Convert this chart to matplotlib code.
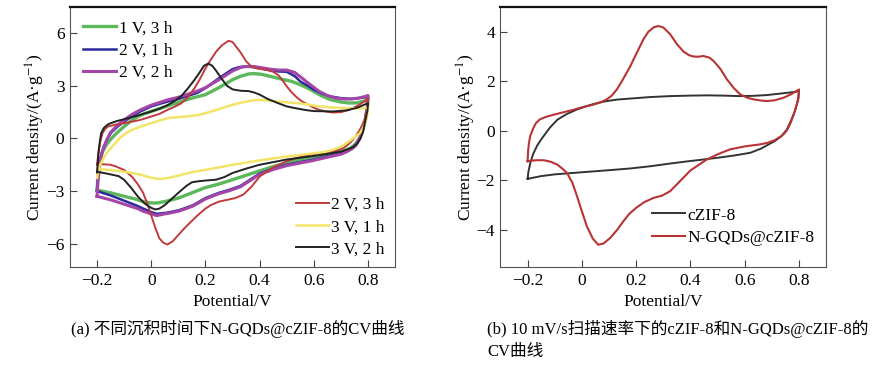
import numpy as np
import matplotlib
matplotlib.use("Agg")
import matplotlib.pyplot as plt

plt.rcParams['font.family'] = ['Liberation Serif', 'Noto Sans CJK SC']
plt.rcParams['mathtext.fontset'] = 'stix'

# ---- (a) CV curves at different deposition conditions: (V, j) pairs, anodic then cathodic ----
cv_1v3h = [(-0.2, -2.9), (-0.197, -2.2), (-0.19, -1.3), (-0.18, -0.75), (-0.165, -0.35), (-0.15, -0.05),
           (-0.125, 0.35), (-0.1, 0.68), (-0.075, 1.0), (-0.05, 1.25), (-0.025, 1.42), (0, 1.54), (0.05, 1.8),
           (0.1, 2.05), (0.15, 2.3), (0.2, 2.5), (0.25, 2.9), (0.3, 3.35), (0.33, 3.55), (0.36, 3.68), (0.38, 3.7),
           (0.41, 3.65), (0.45, 3.5), (0.49, 3.35), (0.52, 3.25), (0.55, 3.06), (0.58, 2.85), (0.6, 2.68),
           (0.63, 2.42), (0.66, 2.22), (0.7, 2.08), (0.73, 2.02), (0.76, 2.03), (0.79, 2.15), (0.8, 2.3),
           (0.798, 1.8), (0.79, 1.0), (0.78, 0.45), (0.77, 0.05), (0.755, -0.3), (0.74, -0.5), (0.72, -0.65),
           (0.7, -0.75), (0.65, -0.9), (0.6, -1.05), (0.55, -1.2), (0.5, -1.4), (0.45, -1.6), (0.4, -1.85),
           (0.33, -2.2), (0.25, -2.6), (0.2, -2.8), (0.15, -3.1), (0.1, -3.4), (0.05, -3.6), (0.02, -3.68),
           (0, -3.68), (-0.03, -3.6), (-0.06, -3.45), (-0.1, -3.3), (-0.15, -3.1), (-0.2, -2.95)]

cv_2v1h = [(-0.2, -3.0), (-0.197, -2.3), (-0.19, -1.4), (-0.183, -0.85), (-0.175, -0.45), (-0.163, -0.05),
           (-0.15, 0.3), (-0.125, 0.67), (-0.1, 0.97), (-0.07, 1.27), (-0.04, 1.54), (0, 1.83), (0.03, 1.97),
           (0.06, 2.1), (0.1, 2.25), (0.13, 2.4), (0.17, 2.6), (0.2, 2.87), (0.25, 3.44), (0.28, 3.75),
           (0.3, 3.95), (0.32, 4.05), (0.34, 4.1), (0.37, 4.08), (0.4, 4.0), (0.44, 3.88), (0.47, 3.82),
           (0.5, 3.8), (0.53, 3.55), (0.55, 3.25), (0.58, 2.98), (0.6, 2.78), (0.63, 2.55), (0.66, 2.4),
           (0.7, 2.3), (0.73, 2.26), (0.76, 2.28), (0.79, 2.35), (0.8, 2.4),
           (0.798, 1.9), (0.79, 1.1), (0.78, 0.5), (0.77, 0.05), (0.755, -0.35), (0.74, -0.55), (0.72, -0.72),
           (0.7, -0.85), (0.65, -1.02), (0.6, -1.2), (0.55, -1.35), (0.5, -1.5), (0.45, -1.72), (0.4, -2.0),
           (0.36, -2.4), (0.33, -2.7), (0.29, -2.92), (0.25, -3.1), (0.2, -3.4), (0.155, -3.8), (0.12, -4.0),
           (0.1, -4.1), (0.07, -4.2), (0.05, -4.25), (0.02, -4.3), (0, -4.2), (-0.03, -4.0), (-0.05, -3.85),
           (-0.1, -3.55), (-0.15, -3.25), (-0.2, -3.0)]

cv_2v2h = [(-0.2, -3.3), (-0.197, -2.5), (-0.19, -1.5), (-0.183, -0.9), (-0.175, -0.5), (-0.163, -0.05),
           (-0.15, 0.35), (-0.125, 0.75), (-0.1, 1.05), (-0.07, 1.38), (-0.04, 1.63), (0, 1.9), (0.03, 2.05),
           (0.06, 2.2), (0.1, 2.35), (0.13, 2.5), (0.17, 2.7), (0.2, 2.9), (0.25, 3.35), (0.28, 3.65),
           (0.3, 3.85), (0.33, 4.05), (0.35, 4.1), (0.38, 4.1), (0.4, 4.05), (0.44, 3.95), (0.47, 3.9),
           (0.5, 3.9), (0.53, 3.76), (0.56, 3.4), (0.58, 3.15), (0.6, 2.92), (0.62, 2.68), (0.65, 2.45),
           (0.68, 2.3), (0.71, 2.25), (0.74, 2.25), (0.77, 2.32), (0.79, 2.4), (0.8, 2.45),
           (0.798, 1.9), (0.79, 1.1), (0.78, 0.45), (0.77, 0.0), (0.755, -0.4), (0.74, -0.6), (0.72, -0.77),
           (0.7, -0.9), (0.65, -1.07), (0.6, -1.25), (0.55, -1.4), (0.5, -1.55), (0.45, -1.77), (0.4, -2.05),
           (0.36, -2.45), (0.33, -2.75), (0.29, -2.97), (0.25, -3.15), (0.2, -3.45), (0.155, -3.85),
           (0.12, -4.05), (0.1, -4.15), (0.07, -4.25), (0.05, -4.3), (0.02, -4.4), (0, -4.3), (-0.03, -4.15),
           (-0.05, -4.0), (-0.1, -3.75), (-0.15, -3.5), (-0.2, -3.3)]

cv_2v3h = [(-0.2, -1.5), (-0.197, -1.1), (-0.193, -0.6), (-0.187, -0.1), (-0.18, 0.3), (-0.17, 0.55),
           (-0.16, 0.68), (-0.13, 0.8), (-0.1, 0.87), (-0.07, 0.96), (-0.04, 1.06), (0, 1.25), (0.03, 1.4),
           (0.06, 1.63), (0.085, 1.8), (0.11, 2.0), (0.135, 2.35), (0.16, 2.87), (0.18, 3.4), (0.2, 4.0),
           (0.22, 4.5), (0.24, 4.96), (0.26, 5.3), (0.285, 5.57), (0.3, 5.5), (0.31, 5.3), (0.33, 4.9),
           (0.35, 4.4), (0.37, 4.1), (0.39, 4.0), (0.41, 3.95), (0.43, 3.9), (0.45, 3.8), (0.47, 3.6),
           (0.49, 3.2), (0.5, 2.97), (0.52, 2.6), (0.54, 2.3), (0.56, 2.08), (0.58, 1.92), (0.6, 1.75),
           (0.62, 1.63), (0.65, 1.52), (0.67, 1.48), (0.7, 1.5), (0.73, 1.63), (0.76, 1.85), (0.79, 2.15),
           (0.8, 2.3),
           (0.798, 1.9), (0.79, 1.2), (0.78, 0.8), (0.77, 0.5), (0.758, 0.2), (0.745, -0.07), (0.73, -0.3),
           (0.71, -0.55), (0.68, -0.7), (0.62, -0.84), (0.56, -1.0), (0.5, -1.3), (0.45, -1.65), (0.4, -2.17),
           (0.37, -2.75), (0.34, -3.2), (0.31, -3.4), (0.28, -3.5), (0.25, -3.6), (0.22, -3.8), (0.2, -4.0),
           (0.17, -4.4), (0.15, -4.7), (0.13, -5.0), (0.1, -5.5), (0.08, -5.85), (0.06, -6.05), (0.045, -5.95),
           (0.03, -5.7), (0.015, -5.1), (0, -4.4), (-0.015, -3.7), (-0.03, -3.1), (-0.05, -2.6), (-0.07, -2.2),
           (-0.1, -1.8), (-0.13, -1.6), (-0.15, -1.5), (-0.18, -1.47), (-0.2, -1.5)]

cv_3v1h = [(-0.2, -2.25), (-0.197, -1.9), (-0.19, -1.55), (-0.175, -1.1), (-0.16, -0.74), (-0.135, -0.3),
           (-0.11, 0.11), (-0.09, 0.33), (-0.07, 0.5), (-0.035, 0.7), (0, 0.87), (0.03, 1.02), (0.06, 1.16),
           (0.1, 1.22), (0.13, 1.25), (0.17, 1.33), (0.2, 1.44), (0.24, 1.62), (0.28, 1.83), (0.32, 2.0),
           (0.35, 2.1), (0.38, 2.18), (0.4, 2.2), (0.44, 2.15), (0.47, 2.1), (0.55, 2.0), (0.62, 1.83),
           (0.67, 1.76), (0.72, 1.73), (0.76, 1.72), (0.79, 1.73), (0.8, 1.8),
           (0.797, 1.3), (0.79, 0.87), (0.78, 0.55), (0.77, 0.3), (0.745, 0.0), (0.72, -0.27), (0.695, -0.5),
           (0.67, -0.65), (0.64, -0.77), (0.6, -0.84), (0.55, -0.94), (0.5, -1.03), (0.45, -1.14), (0.4, -1.25),
           (0.35, -1.38), (0.3, -1.5), (0.25, -1.65), (0.2, -1.79), (0.16, -1.9), (0.13, -2.0), (0.1, -2.12),
           (0.06, -2.26), (0.04, -2.3), (0.02, -2.3), (-0.01, -2.2), (-0.04, -2.07), (-0.07, -1.97),
           (-0.1, -1.9), (-0.15, -1.8), (-0.2, -1.75)]

cv_3v2h = [(-0.2, -1.94), (-0.198, -1.5), (-0.195, -0.84), (-0.19, -0.2), (-0.185, 0.3), (-0.175, 0.6),
           (-0.16, 0.8), (-0.15, 0.87), (-0.125, 1.0), (-0.1, 1.1), (-0.07, 1.22), (-0.04, 1.35), (0, 1.54),
           (0.03, 1.7), (0.06, 1.9), (0.085, 2.12), (0.11, 2.4), (0.135, 2.85), (0.16, 3.35), (0.18, 3.8),
           (0.195, 4.15), (0.21, 4.27), (0.225, 4.15), (0.24, 3.85), (0.26, 3.4), (0.28, 3.0), (0.3, 2.8),
           (0.33, 2.72), (0.36, 2.7), (0.38, 2.62), (0.4, 2.5), (0.43, 2.25), (0.47, 2.0), (0.5, 1.83),
           (0.53, 1.73), (0.57, 1.62), (0.6, 1.56), (0.67, 1.54), (0.72, 1.6), (0.76, 1.75), (0.79, 1.95),
           (0.8, 2.0),
           (0.798, 1.6), (0.79, 1.0), (0.782, 0.4), (0.772, 0.0), (0.76, -0.3), (0.745, -0.5), (0.72, -0.65),
           (0.7, -0.75), (0.65, -0.88), (0.6, -1.0), (0.55, -1.1), (0.5, -1.2), (0.45, -1.35), (0.4, -1.5),
           (0.35, -1.72), (0.3, -1.97), (0.27, -2.2), (0.24, -2.35), (0.2, -2.4), (0.17, -2.45), (0.15, -2.5),
           (0.13, -2.7), (0.1, -3.1), (0.075, -3.45), (0.05, -3.8), (0.03, -4.0), (0.015, -4.05), (0, -3.96),
           (-0.025, -3.7), (-0.05, -3.3), (-0.075, -2.8), (-0.1, -2.36), (-0.12, -2.15), (-0.15, -2.05),
           (-0.175, -1.97), (-0.2, -1.9)]

# ---- (b) cZIF-8 vs N-GQDs@cZIF-8 at 10 mV/s ----
cv_czif = [(-0.2, -1.94), (-0.197, -1.65), (-0.19, -1.3), (-0.18, -0.95), (-0.165, -0.6), (-0.15, -0.35),
           (-0.13, -0.05), (-0.116, 0.15), (-0.09, 0.45), (-0.055, 0.68), (-0.02, 0.85), (0.018, 1.0),
           (0.05, 1.1), (0.092, 1.2), (0.13, 1.26), (0.178, 1.3), (0.25, 1.36), (0.325, 1.4), (0.4, 1.42),
           (0.46, 1.43), (0.52, 1.42), (0.58, 1.4), (0.63, 1.41), (0.68, 1.44), (0.73, 1.5), (0.77, 1.55),
           (0.8, 1.6),
           (0.795, 1.2), (0.785, 0.8), (0.77, 0.4), (0.755, 0.05), (0.735, -0.22), (0.71, -0.42), (0.693, -0.52),
           (0.66, -0.72), (0.62, -0.89), (0.56, -1.0), (0.5, -1.09), (0.44, -1.17), (0.377, -1.25),
           (0.32, -1.33), (0.254, -1.43), (0.18, -1.52), (0.09, -1.6), (-0.03, -1.7), (-0.1, -1.76),
           (-0.15, -1.83), (-0.2, -1.94)]

cv_ngqd = [(-0.2, -1.23), (-0.198, -0.8), (-0.195, -0.49), (-0.19, -0.2), (-0.18, 0.08), (-0.17, 0.3),
           (-0.155, 0.46), (-0.13, 0.57), (-0.1, 0.66), (-0.067, 0.75), (-0.03, 0.85), (-0.006, 0.93),
           (0.03, 1.02), (0.055, 1.1), (0.075, 1.18), (0.092, 1.27), (0.11, 1.42), (0.129, 1.67), (0.15, 2.05),
           (0.178, 2.6), (0.2, 3.1), (0.227, 3.7), (0.245, 4.0), (0.265, 4.18), (0.282, 4.23), (0.3, 4.17),
           (0.325, 3.9), (0.35, 3.5), (0.374, 3.2), (0.395, 3.05), (0.41, 3.0), (0.43, 2.99), (0.448, 3.02),
           (0.47, 2.95), (0.485, 2.82), (0.51, 2.5), (0.534, 2.08), (0.56, 1.72), (0.583, 1.47), (0.61, 1.33),
           (0.632, 1.27), (0.66, 1.22), (0.681, 1.2), (0.71, 1.23), (0.742, 1.33), (0.77, 1.47), (0.79, 1.6),
           (0.8, 1.67),
           (0.798, 1.3), (0.79, 1.0), (0.78, 0.65), (0.77, 0.35), (0.757, 0.05), (0.745, -0.12), (0.73, -0.25),
           (0.71, -0.38), (0.686, -0.48), (0.656, -0.55), (0.6, -0.63), (0.546, -0.75), (0.5, -0.95),
           (0.46, -1.16), (0.43, -1.38), (0.4, -1.6), (0.36, -2.05), (0.325, -2.44), (0.295, -2.62),
           (0.264, -2.71), (0.23, -2.88), (0.2, -3.11), (0.175, -3.35), (0.153, -3.65), (0.13, -4.0),
           (0.104, -4.33), (0.08, -4.55), (0.06, -4.6), (0.04, -4.35), (0.018, -3.85), (0, -3.25),
           (-0.018, -2.64), (-0.035, -2.1), (-0.055, -1.7), (-0.075, -1.5), (-0.09, -1.37), (-0.115, -1.25),
           (-0.14, -1.19), (-0.17, -1.19), (-0.2, -1.23)]

labels_a1 = ['1 V, 3 h', '2 V, 1 h', '2 V, 2 h']
labels_a2 = ['2 V, 3 h', '3 V, 1 h', '3 V, 2 h']
labels_b = ['cZIF-8', 'N-GQDs@cZIF-8']

xticks = [-0.2, 0, 0.2, 0.4, 0.6, 0.8]
xticklabels = ['\u22120.2', '0', '0.2', '0.4', '0.6', '0.8']
yticks_a = [-6, -3, 0, 3, 6]
yticks_b = [-4, -2, 0, 2, 4]

FS = 12.5

fig = plt.figure(figsize=(8.78, 3.65), dpi=100)
ax1 = fig.add_axes([0.0797, 0.2685, 0.3703, 0.7125])
ax2 = fig.add_axes([0.5700, 0.2685, 0.3710, 0.7125])


def style(ax, yticks, ylim):
    ax.set_xlim(-0.3, 0.9)
    ax.set_ylim(*ylim)
    ax.set_xticks(xticks)
    ax.set_xticklabels(xticklabels)
    ax.set_yticks(yticks)
    ax.set_yticklabels([str(t).replace('-', '\u2212') for t in yticks])
    ax.tick_params(direction='in', length=5, width=0.8, labelsize=FS, color='#444444', pad=4)
    for s in ['left', 'bottom', 'right']:
        ax.spines[s].set_linewidth(0.8)
        ax.spines[s].set_color('#555555')
    ax.spines['top'].set_linewidth(1.6)
    ax.spines['top'].set_color('#111111')
    ax.set_xlabel('Potential/V', fontsize=FS, labelpad=4)
    ax.set_ylabel('Current density/(A\u00b7g$^{\u22121}$)', fontsize=FS, labelpad=-1)


def draw(ax, cv, **kw):
    v, j = np.array(cv).T
    line, = ax.plot(v, j, solid_joinstyle='round', **kw)
    return line


l1 = draw(ax1, cv_1v3h, color='#5cb85a', lw=2.4)
l2 = draw(ax1, cv_2v1h, color='#2a2a9c', lw=1.8)
l3 = draw(ax1, cv_2v2h, color='#a446a8', lw=2.2)
l4 = draw(ax1, cv_2v3h, color='#c03a3e', lw=1.4)
l5 = draw(ax1, cv_3v1h, color='#f2e466', lw=1.8)
l6 = draw(ax1, cv_3v2h, color='#222222', lw=1.4)
style(ax1, yticks_a, (-7.33, 7.5))

leg_kw = dict(frameon=False, fontsize=FS, handlelength=1.9, handletextpad=0.15,
              labelspacing=0.35, borderaxespad=0)
leg1 = ax1.legend([l1, l2, l3], labels_a1, loc='upper left', bbox_to_anchor=(0.02, 0.975), **leg_kw)
ax1.add_artist(leg1)
ax1.legend([l4, l5, l6], labels_a2, loc='lower right', bbox_to_anchor=(0.99, 0.01), **leg_kw)

m1 = draw(ax2, cv_czif, color='#333333', lw=1.4)
m2 = draw(ax2, cv_ngqd, color='#b83336', lw=1.5)
style(ax2, yticks_b, (-5.5, 5.0))
ax2.legend([m1, m2], labels_b, loc='lower right', bbox_to_anchor=(0.985, 0.055), **leg_kw)

fig.text(0.2705, 0.098, '(a) 不同沉积时间下N-GQDs@cZIF-8的CV曲线', ha='center', va='center', fontsize=12)
fig.text(0.5547, 0.098, '(b) 10 mV/s扫描速率下的cZIF-8和N-GQDs@cZIF-8的', ha='left', va='center', fontsize=12)
fig.text(0.5547, 0.035, 'CV曲线', ha='left', va='center', fontsize=12)

fig.savefig('out.png', dpi=100)
